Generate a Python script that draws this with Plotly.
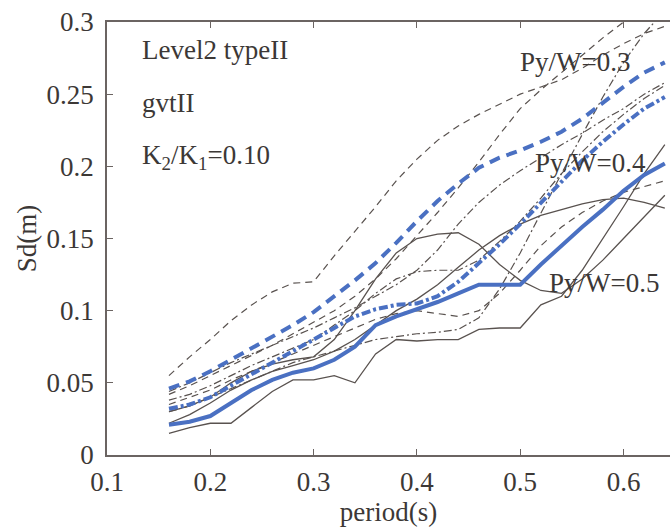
import plotly.graph_objects as go

periods = [0.16, 0.18, 0.20, 0.22, 0.24, 0.26, 0.28, 0.30, 0.32, 0.34, 0.36, 0.38, 0.40,
           0.42, 0.44, 0.46, 0.48, 0.50, 0.52, 0.54, 0.56, 0.58, 0.60, 0.62, 0.64]

# mean curves (blue)
mean_py03 = [0.046, 0.051, 0.058, 0.066, 0.074, 0.082, 0.090, 0.099, 0.110, 0.121, 0.133, 0.147, 0.162,
             0.176, 0.188, 0.199, 0.206, 0.211, 0.217, 0.224, 0.233, 0.244, 0.255, 0.265, 0.272]
mean_py04 = [0.032, 0.035, 0.040, 0.048, 0.056, 0.064, 0.072, 0.080, 0.088, 0.096, 0.101, 0.104, 0.105,
             0.110, 0.120, 0.133, 0.146, 0.160, 0.175, 0.190, 0.204, 0.217, 0.229, 0.240, 0.248]
mean_py05 = [0.021, 0.023, 0.027, 0.036, 0.045, 0.052, 0.057, 0.060, 0.066, 0.075, 0.090, 0.096, 0.101,
             0.106, 0.112, 0.118, 0.118, 0.118, 0.132, 0.145, 0.158, 0.170, 0.183, 0.194, 0.202]

# individual records, Py/W=0.3 (dashed)
rec03_a = [0.055, 0.068, 0.080, 0.093, 0.104, 0.113, 0.119, 0.120, 0.138, 0.155, 0.172, 0.190, 0.205,
           0.218, 0.228, 0.236, 0.243, 0.250, 0.255, 0.260, 0.268, 0.277, 0.285, 0.292, 0.297]
rec03_b = [0.042, 0.048, 0.055, 0.062, 0.069, 0.076, 0.084, 0.092, 0.100, 0.110, 0.122, 0.136, 0.152,
           0.168, 0.185, 0.203, 0.222, 0.240, 0.253, 0.265, 0.277, 0.289, 0.300, 0.310, 0.318]
rec03_c = [0.035, 0.040, 0.045, 0.052, 0.058, 0.064, 0.070, 0.076, 0.082, 0.088, 0.094, 0.098, 0.100,
           0.098, 0.096, 0.100, 0.112, 0.128, 0.145, 0.158, 0.168, 0.176, 0.182, 0.186, 0.190]

# individual records, Py/W=0.4 (dash-dot)
rec04_a = [0.044, 0.050, 0.057, 0.064, 0.070, 0.076, 0.082, 0.088, 0.095, 0.102, 0.110, 0.118, 0.128,
           0.142, 0.160, 0.175, 0.187, 0.197, 0.206, 0.215, 0.223, 0.232, 0.240, 0.250, 0.258]
rec04_b = [0.030, 0.034, 0.040, 0.046, 0.052, 0.058, 0.064, 0.068, 0.072, 0.076, 0.080, 0.082, 0.084,
           0.085, 0.087, 0.095, 0.115, 0.140, 0.168, 0.195, 0.222, 0.248, 0.272, 0.292, 0.308]
rec04_c = [0.038, 0.042, 0.048, 0.055, 0.062, 0.068, 0.074, 0.080, 0.090, 0.100, 0.112, 0.122, 0.127,
           0.128, 0.128, 0.135, 0.148, 0.162, 0.178, 0.195, 0.210, 0.224, 0.236, 0.247, 0.256]

# individual records, Py/W=0.5 (solid)
rec05_a = [0.015, 0.019, 0.022, 0.022, 0.033, 0.044, 0.052, 0.052, 0.055, 0.050, 0.070, 0.080, 0.079,
           0.080, 0.080, 0.087, 0.088, 0.088, 0.104, 0.110, 0.128, 0.150, 0.172, 0.195, 0.215]
rec05_b = [0.030, 0.034, 0.040, 0.050, 0.058, 0.063, 0.066, 0.068, 0.080, 0.100, 0.122, 0.140, 0.150,
           0.153, 0.154, 0.146, 0.132, 0.121, 0.114, 0.112, 0.122, 0.135, 0.150, 0.165, 0.180]
rec05_c = [0.022, 0.028, 0.036, 0.045, 0.052, 0.058, 0.062, 0.066, 0.072, 0.080, 0.090, 0.100, 0.108,
           0.118, 0.130, 0.142, 0.152, 0.160, 0.166, 0.170, 0.174, 0.177, 0.178, 0.175, 0.171]

x_ticks = [0.1, 0.2, 0.3, 0.4, 0.5, 0.6]
x_tick_labels = ["0.1", "0.2", "0.3", "0.4", "0.5", "0.6"]
y_ticks = [0, 0.05, 0.1, 0.15, 0.2, 0.25, 0.3]
y_tick_labels = ["0", "0.05", "0.1", "0.15", "0.2", "0.25", "0.3"]

GRAY = "#59524f"
BLUE = "#4a70c2"
TXT = "#3c3836"
AX = "#6b6462"
FONT = "Liberation Serif"

fig = go.Figure()

for rec in (rec03_a, rec03_b, rec03_c):
    fig.add_trace(go.Scatter(x=periods, y=rec, mode="lines",
                             line=dict(color=GRAY, width=1.2, dash="7px,5px")))
for rec in (rec04_a, rec04_b, rec04_c):
    fig.add_trace(go.Scatter(x=periods, y=rec, mode="lines",
                             line=dict(color=GRAY, width=1.2, dash="8px,3px,2px,3px")))
for rec in (rec05_a, rec05_b, rec05_c):
    fig.add_trace(go.Scatter(x=periods, y=rec, mode="lines",
                             line=dict(color=GRAY, width=1.3)))

fig.add_trace(go.Scatter(x=periods, y=mean_py03, mode="lines",
                         line=dict(color=BLUE, width=4, dash="11px,7px")))
fig.add_trace(go.Scatter(x=periods, y=mean_py04, mode="lines",
                         line=dict(color=BLUE, width=4, dash="9px,3px,3px,3px")))
fig.add_trace(go.Scatter(x=periods, y=mean_py05, mode="lines",
                         line=dict(color=BLUE, width=4)))

annos = [
    dict(text="Level2 typeII", x=140, y=50),
    dict(text="gvtII", x=140, y=103),
    dict(text="K<sub>2</sub>/K<sub>1</sub>=0.10", x=140, y=157),
]
for a in annos:
    fig.add_annotation(text=a["text"], xref="paper", yref="paper",
                       x=(a["x"] - 107) / 563, y=1 - (a["y"] - 22) / 433,
                       xanchor="left", yanchor="middle", showarrow=False,
                       font=dict(family=FONT, size=27, color=TXT))

labels = [
    dict(text="Py/W=0.3", x=575, y=62),
    dict(text="Py/W=0.4", x=590, y=163),
    dict(text="Py/W=0.5", x=604, y=283),
]
for a in labels:
    fig.add_annotation(text=a["text"], xref="paper", yref="paper",
                       x=(a["x"] - 107) / 563, y=1 - (a["y"] - 22) / 433,
                       xanchor="center", yanchor="middle", showarrow=False,
                       font=dict(family=FONT, size=27, color=TXT))

fig.update_layout(
    width=670, height=531,
    margin=dict(l=107, r=0, t=22, b=76),
    paper_bgcolor="white", plot_bgcolor="white",
    showlegend=False,
    font=dict(family=FONT, size=27, color=TXT),
    xaxis=dict(range=[0.1, 0.645], tickvals=x_ticks, ticktext=x_tick_labels,
               ticks="inside", ticklen=6, tickcolor=AX, tickwidth=1.3,
               showline=True, linecolor=AX, linewidth=1.6, mirror="ticks",
               showgrid=False, zeroline=False, ticklabelstandoff=2,
               tickfont=dict(family=FONT, size=27, color=TXT),
               title=dict(text="period(s)", standoff=2,
                          font=dict(family=FONT, size=27, color=TXT))),
    yaxis=dict(range=[0, 0.3], tickvals=y_ticks, ticktext=y_tick_labels,
               ticks="inside", ticklen=6, tickcolor=AX, tickwidth=1.3,
               showline=True, linecolor=AX, linewidth=1.6,
               showgrid=False, zeroline=False, ticklabelstandoff=6,
               tickfont=dict(family=FONT, size=27, color=TXT),
               title=dict(text="Sd(m)", standoff=2,
                          font=dict(family=FONT, size=27, color=TXT))),
)

fig.write_html("out.html")
